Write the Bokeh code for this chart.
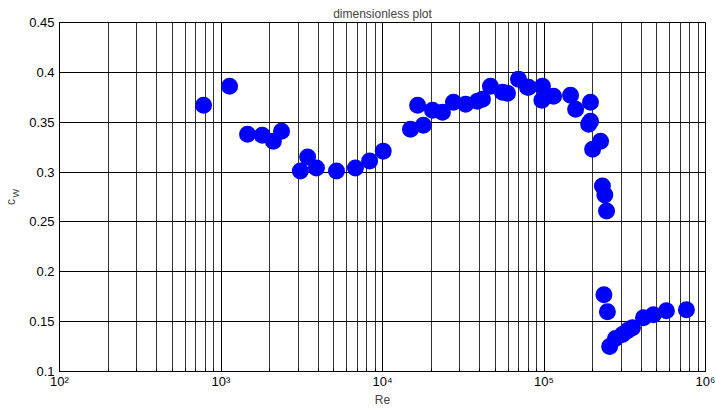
from bokeh.plotting import figure
from bokeh.models import FixedTicker, NumeralTickFormatter, Range1d, LinearAxis
from bokeh.embed import file_html
from bokeh.resources import INLINE

re_vals = [780, 1130, 1460, 1800, 2110, 2370, 3100, 3440, 3900, 5190, 6800, 8320,
           10100, 14900, 17900, 16500, 20400, 23500, 27500, 32700, 38700, 41600,
           46600, 55300, 59400, 69500, 79000, 80200, 97800, 97000, 114600, 146000,
           157000, 194000, 189000, 194000, 224000, 200000, 230000, 238000, 244000,
           235000, 247000, 255000, 277000, 306000, 329000, 353000, 413000, 476000,
           573000, 762000]
cw_vals = [0.367, 0.386, 0.338, 0.337, 0.331, 0.341, 0.301, 0.315, 0.304, 0.301, 0.304, 0.311,
           0.321, 0.343, 0.347, 0.367, 0.362, 0.360, 0.370, 0.368, 0.371, 0.373,
           0.386, 0.380, 0.379, 0.393, 0.385, 0.385, 0.386, 0.372, 0.376, 0.377,
           0.363, 0.370, 0.348, 0.351, 0.331, 0.323, 0.286, 0.277, 0.261,
           0.177, 0.160, 0.125, 0.133, 0.137, 0.141, 0.144, 0.154, 0.157,
           0.161, 0.162]

x_major = [1e2, 1e3, 1e4, 1e5, 1e6]
x_labels = {1e2: "10²", 1e3: "10³", 1e4: "10⁴", 1e5: "10⁵", 1e6: "10⁶"}
x_minor = [m * d for d in [1e2, 1e3, 1e4, 1e5] for m in range(2, 10)]
y_ticks = [0.1, 0.15, 0.2, 0.25, 0.3, 0.35, 0.4, 0.45]

FONT = "Liberation Sans"
NB = "\u00a0"

p = figure(width=715, height=409, x_axis_type="log",
           x_range=Range1d(1e2, 1e6), y_range=Range1d(0.1, 0.45),
           output_backend="svg", toolbar_location=None,
           min_border_left=59, min_border_right=10, min_border_top=22, min_border_bottom=34)

p.title.text = "dimensionless plot"
p.title.align = "center"
p.title.text_font = FONT
p.title.text_font_size = "12px"
p.title.text_font_style = "normal"
p.title.standoff = 3
p.title.offset = 0

p.outline_line_color = "black"
p.outline_line_width = 1

p.xaxis.ticker = FixedTicker(ticks=x_major, minor_ticks=x_minor)
p.xaxis.major_label_overrides = x_labels
p.yaxis.ticker = FixedTicker(ticks=y_ticks)
p.yaxis.formatter = NumeralTickFormatter(format="0.0[0]")

for ax in (p.xaxis, p.yaxis):
    ax.axis_line_color = "black"
    ax.major_tick_line_color = "black"
    ax.minor_tick_line_color = "black"
    ax.major_tick_in = 5
    ax.major_tick_out = 0
    ax.minor_tick_in = 3
    ax.minor_tick_out = 0
    ax.major_label_text_font = FONT
    ax.major_label_text_font_size = "13px"
    ax.major_label_text_color = "black"
    ax.axis_label_text_font = FONT
    ax.axis_label_text_font_size = "12px"
    ax.axis_label_text_font_style = "normal"

p.yaxis.minor_tick_line_color = None
p.xaxis.major_label_standoff = 2
p.yaxis.major_label_standoff = 5
p.xaxis.axis_label = "Re"
p.xaxis.axis_label_standoff = 1

# subscript "W" as the main y-axis label, "c" on an extra bare axis further out
p.yaxis.axis_label = NB * 3 + "W"
p.yaxis.axis_label_text_font_size = "9px"
p.yaxis.axis_label_standoff = 5

c_axis = LinearAxis(ticker=FixedTicker(ticks=[]), axis_label="c" + NB * 3,
                    axis_line_color=None, major_tick_line_color=None,
                    minor_tick_line_color=None, major_tick_out=0, minor_tick_out=0,
                    major_tick_in=0, minor_tick_in=0, major_label_standoff=0,
                    axis_label_standoff=-9, axis_label_text_font=FONT,
                    axis_label_text_font_size="12px", axis_label_text_font_style="normal")
p.add_layout(c_axis, "left")

p.xgrid.grid_line_color = "black"
p.xgrid.minor_grid_line_color = "black"
p.xgrid.minor_grid_line_alpha = 0.8
p.ygrid.grid_line_color = "black"

p.scatter(re_vals, cw_vals, marker="circle", size=15, fill_color="#0000ff",
          line_color="#0000ff", line_width=2)

open("out.html", "w").write(file_html(p, INLINE))
